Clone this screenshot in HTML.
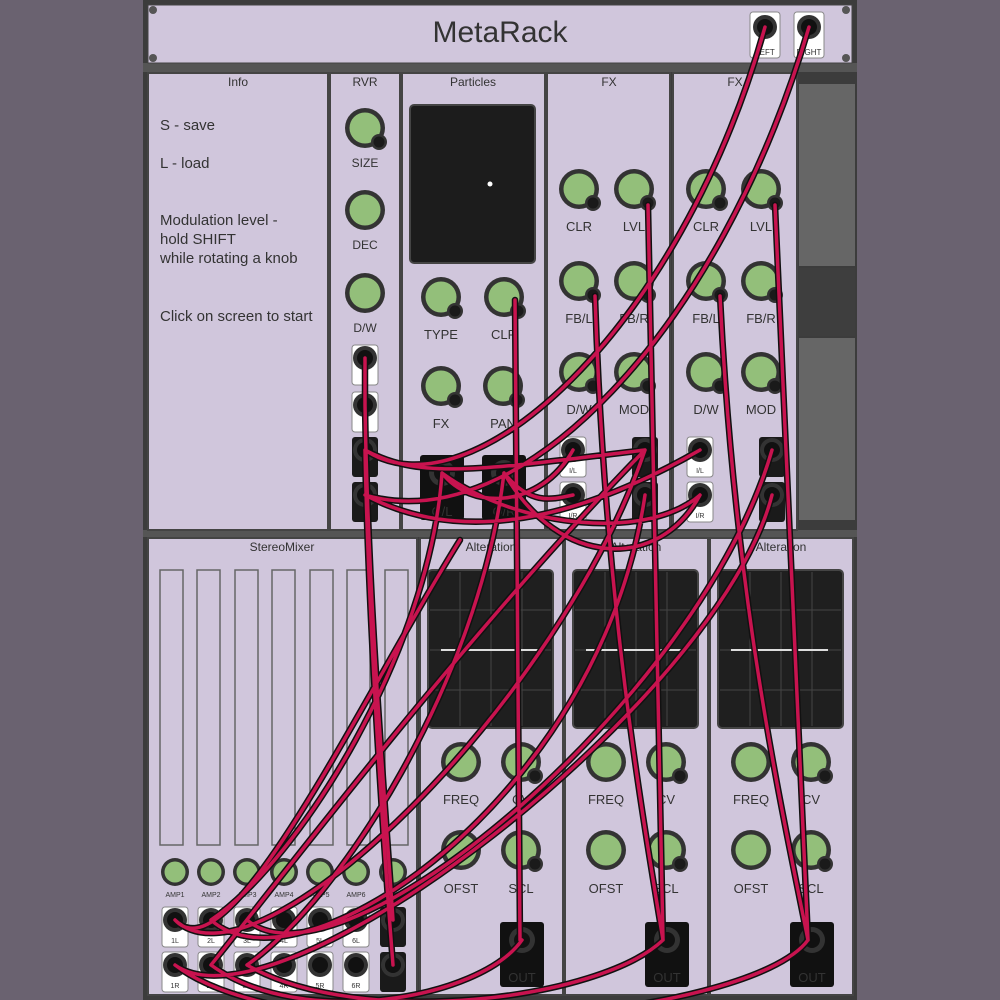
<!DOCTYPE html>
<html><head><meta charset="utf-8"><style>
html,body{margin:0;padding:0;background:#6a6270;}
svg{display:block}
text{font-family:"Liberation Sans","DejaVu Sans",sans-serif;fill:#333}
</style></head><body>
<svg width="1000" height="1000" viewBox="0 0 1000 1000" xmlns="http://www.w3.org/2000/svg">
<defs>
<g id="k"><circle r="20" fill="#333"/><circle r="15.5" fill="#93bf7a"/></g>
<g id="kj"><circle r="20" fill="#333"/><circle r="15.5" fill="#93bf7a"/><circle cx="14" cy="14" r="8" fill="#333"/><circle cx="14" cy="14" r="5.5" fill="#1a1a1a"/></g>
<g id="ks"><circle r="14" fill="#333"/><circle r="10.5" fill="#93bf7a"/></g>
<g id="jw"><rect x="-13" y="-13" width="26" height="40" rx="3" fill="#fff" stroke="#888"/><circle r="12" fill="#333"/><circle r="8" fill="#111"/></g>
<g id="jb"><rect x="-13" y="-13" width="26" height="40" rx="3" fill="#1a1a1a"/><circle r="12" fill="#333"/><circle r="8" fill="#111"/></g>
<g id="ob"><rect x="-22" y="-18" width="44" height="65" rx="3" fill="#111"/><circle r="13" fill="#333"/><circle r="8" fill="#111"/></g>
<g id="sc"><circle r="4" fill="#555"/></g>
<path id="cp" d="M365,358 L365,405 M365,405 C368,600 385,800 393,920 M365,450 C368,600 380,800 393,965
M515,300 L520,940 M648,205 L663,940 M595,296 C605,600 640,800 663,940 M775,205 L808,940 M720,296 C735,600 780,800 808,940
M365,450 C470,520 680,330 765,27 M365,495 C520,540 720,330 809,27
M442,473 C470,510 540,510 573,450 M504,473 C530,505 550,500 573,495
M365,450 C420,480 480,470 645,450 M365,495 C450,540 560,530 700,450
M442,473 C520,530 650,540 700,495 M504,473 C560,570 660,570 700,495
M442,473 C430,650 300,860 211,920 M504,473 C480,680 340,900 247,965
M175,920 C260,1000 560,700 645,450 M211,920 C300,1000 600,800 645,495 M247,920 C340,1000 700,700 772,450 M175,965 C280,1040 720,700 772,495
M211,965 C300,1030 480,1000 522,940 M247,965 C360,1030 600,1000 663,940 M175,965 C300,1060 750,1020 808,940
M175,920 C230,980 360,700 460,540 M211,965 C280,880 460,640 645,450"/>
</defs>
<rect x="143" y="0" width="714" height="1000" fill="#3c3c3c"/>
<rect x="143" y="63" width="714" height="9" fill="#555"/>
<rect x="143" y="530" width="714" height="7" fill="#555"/>
<rect x="148" y="5" width="704" height="58" fill="#d0c6dc" stroke="#444"/>
<text x="500" y="42" font-size="30" text-anchor="middle" fill="#444">MetaRack</text>
<use href="#sc" x="153" y="10"/><use href="#sc" x="153" y="58"/><use href="#sc" x="846" y="10"/><use href="#sc" x="846" y="58"/>
<rect x="750" y="12" width="30" height="46" rx="3" fill="#fff" stroke="#888"/><circle cx="765" cy="27" r="12" fill="#333"/><circle cx="765" cy="27" r="8" fill="#111"/>
<text x="765" y="55" font-size="8" text-anchor="middle">LEFT</text>
<rect x="794" y="12" width="30" height="46" rx="3" fill="#fff" stroke="#888"/><circle cx="809" cy="27" r="12" fill="#333"/><circle cx="809" cy="27" r="8" fill="#111"/>
<text x="809" y="55" font-size="8" text-anchor="middle">RIGHT</text>
<rect x="799" y="84" width="56" height="182" fill="#666"/>
<rect x="799" y="268" width="56" height="68" fill="#3e3e3e"/>
<rect x="799" y="338" width="56" height="182" fill="#666"/>
<g fill="#d0c6dc" stroke="#444" stroke-width="2">
<rect x="148" y="73" width="180" height="457"/>
<rect x="330" y="73" width="70" height="457"/>
<rect x="402" y="73" width="143" height="457"/>
<rect x="547" y="73" width="123" height="457"/>
<rect x="673" y="73" width="124" height="457"/>
<rect x="148" y="538" width="269" height="457"/>
<rect x="420" y="538" width="143" height="457"/>
<rect x="565" y="538" width="143" height="457"/>
<rect x="710" y="538" width="143" height="457"/>
</g>
<g font-size="12" text-anchor="middle" fill="#555">
<text x="238" y="86">Info</text><text x="365" y="86">RVR</text><text x="473" y="86">Particles</text>
<text x="609" y="86">FX</text><text x="735" y="86">FX</text>
<text x="282" y="551">StereoMixer</text><text x="491" y="551">Alteration</text><text x="636" y="551">Alteration</text><text x="781" y="551">Alteration</text>
</g>
<g font-size="15">
<text x="160" y="130">S - save</text><text x="160" y="168">L - load</text>
<text x="160" y="225">Modulation level -</text><text x="160" y="244">hold SHIFT</text><text x="160" y="263">while rotating a knob</text>
<text x="160" y="321">Click on screen to start</text>
</g>
<use href="#kj" x="365" y="128"/><use href="#k" x="365" y="210"/><use href="#k" x="365" y="293"/>
<g font-size="12" text-anchor="middle"><text x="365" y="167">SIZE</text><text x="365" y="249">DEC</text><text x="365" y="332">D/W</text></g>
<use href="#jw" x="365" y="358"/><use href="#jw" x="365" y="405"/><use href="#jb" x="365" y="450"/><use href="#jb" x="365" y="495"/>
<rect x="410" y="105" width="125" height="158" rx="4" fill="#1c1c1c" stroke="#444" stroke-width="2"/>
<circle cx="490" cy="184" r="2.5" fill="#fff"/>
<use href="#kj" x="441" y="297"/><use href="#kj" x="504" y="297"/><use href="#kj" x="441" y="386"/><use href="#kj" x="503" y="386"/>
<g font-size="13" text-anchor="middle"><text x="441" y="339">TYPE</text><text x="504" y="339">CLR</text><text x="441" y="428">FX</text><text x="503" y="428">PAN</text></g>
<use href="#ob" x="442" y="473"/><use href="#ob" x="504" y="473"/>
<g font-size="13" text-anchor="middle" fill="#aaa"><text x="442" y="516">O/L</text><text x="504" y="516">O/R</text></g>
<use href="#kj" x="579" y="189"/><use href="#kj" x="634" y="189"/><use href="#kj" x="579" y="281"/><use href="#kj" x="634" y="281"/><use href="#kj" x="579" y="372"/><use href="#kj" x="634" y="372"/>
<use href="#kj" x="706" y="189"/><use href="#kj" x="761" y="189"/><use href="#kj" x="706" y="281"/><use href="#kj" x="761" y="281"/><use href="#kj" x="706" y="372"/><use href="#kj" x="761" y="372"/>
<g font-size="13" text-anchor="middle">
<text x="579" y="231">CLR</text><text x="634" y="231">LVL</text><text x="579" y="323">FB/L</text><text x="634" y="323">FB/R</text><text x="579" y="414">D/W</text><text x="634" y="414">MOD</text>
<text x="706" y="231">CLR</text><text x="761" y="231">LVL</text><text x="706" y="323">FB/L</text><text x="761" y="323">FB/R</text><text x="706" y="414">D/W</text><text x="761" y="414">MOD</text>
</g>
<use href="#jw" x="573" y="450"/><use href="#jw" x="573" y="495"/><use href="#jb" x="645" y="450"/><use href="#jb" x="645" y="495"/>
<use href="#jw" x="700" y="450"/><use href="#jw" x="700" y="495"/><use href="#jb" x="772" y="450"/><use href="#jb" x="772" y="495"/>
<g font-size="7" text-anchor="middle"><text x="573" y="473">I/L</text><text x="573" y="518">I/R</text><text x="700" y="473">I/L</text><text x="700" y="518">I/R</text></g>
<g id="alt">
<rect x="428" y="570" width="125" height="158" rx="4" fill="#1f1f1f" stroke="#444" stroke-width="2"/>
<g stroke="#444" stroke-width="1"><line x1="460" y1="572" x2="460" y2="726"/><line x1="491" y1="572" x2="491" y2="726"/><line x1="522" y1="572" x2="522" y2="726"/><line x1="430" y1="610" x2="551" y2="610"/><line x1="430" y1="650" x2="551" y2="650"/><line x1="430" y1="690" x2="551" y2="690"/></g>
<line x1="441" y1="650" x2="538" y2="650" stroke="#ddd" stroke-width="2"/>
<use href="#k" x="461" y="762"/><use href="#kj" x="521" y="762"/><use href="#k" x="461" y="850"/><use href="#kj" x="521" y="850"/>
<g font-size="13" text-anchor="middle"><text x="461" y="804">FREQ</text><text x="521" y="804">CV</text><text x="461" y="893">OFST</text><text x="521" y="893">SCL</text></g>
<use href="#ob" x="522" y="940"/><text x="522" y="982" font-size="13" text-anchor="middle" fill="#ccc">OUT</text>
</g>
<use href="#alt" x="145"/><use href="#alt" x="290"/>
<g fill="none" stroke="#666" stroke-width="1.5">
<rect x="160" y="570" width="23" height="275"/><rect x="197" y="570" width="23" height="275"/><rect x="235" y="570" width="23" height="275"/><rect x="272" y="570" width="23" height="275"/><rect x="310" y="570" width="23" height="275"/><rect x="347" y="570" width="23" height="275"/><rect x="385" y="570" width="23" height="275"/>
</g>
<use href="#ks" x="175" y="872"/><use href="#ks" x="211" y="872"/><use href="#ks" x="247" y="872"/><use href="#ks" x="284" y="872"/><use href="#ks" x="320" y="872"/><use href="#ks" x="356" y="872"/><use href="#ks" x="393" y="872"/>
<g font-size="7" text-anchor="middle"><text x="175" y="897">AMP1</text><text x="211" y="897">AMP2</text><text x="247" y="897">AMP3</text><text x="284" y="897">AMP4</text><text x="320" y="897">AMP5</text><text x="356" y="897">AMP6</text><text x="393" y="897">AMP</text></g>
<use href="#jw" x="175" y="920"/><use href="#jw" x="211" y="920"/><use href="#jw" x="247" y="920"/><use href="#jw" x="284" y="920"/><use href="#jw" x="320" y="920"/><use href="#jw" x="356" y="920"/><use href="#jb" x="393" y="920"/>
<use href="#jw" x="175" y="965"/><use href="#jw" x="211" y="965"/><use href="#jw" x="247" y="965"/><use href="#jw" x="284" y="965"/><use href="#jw" x="320" y="965"/><use href="#jw" x="356" y="965"/><use href="#jb" x="393" y="965"/>
<g font-size="7" text-anchor="middle"><text x="175" y="943">1L</text><text x="211" y="943">2L</text><text x="247" y="943">3L</text><text x="284" y="943">4L</text><text x="320" y="943">5L</text><text x="356" y="943">6L</text><text x="175" y="988">1R</text><text x="211" y="988">2R</text><text x="247" y="988">3R</text><text x="284" y="988">4R</text><text x="320" y="988">5R</text><text x="356" y="988">6R</text></g>
<use href="#cp" fill="none" stroke="#111" stroke-width="6.5" stroke-linecap="round"/>
<use href="#cp" fill="none" stroke="#c8134f" stroke-width="3.5" stroke-linecap="round"/>
</svg>
</body></html>
